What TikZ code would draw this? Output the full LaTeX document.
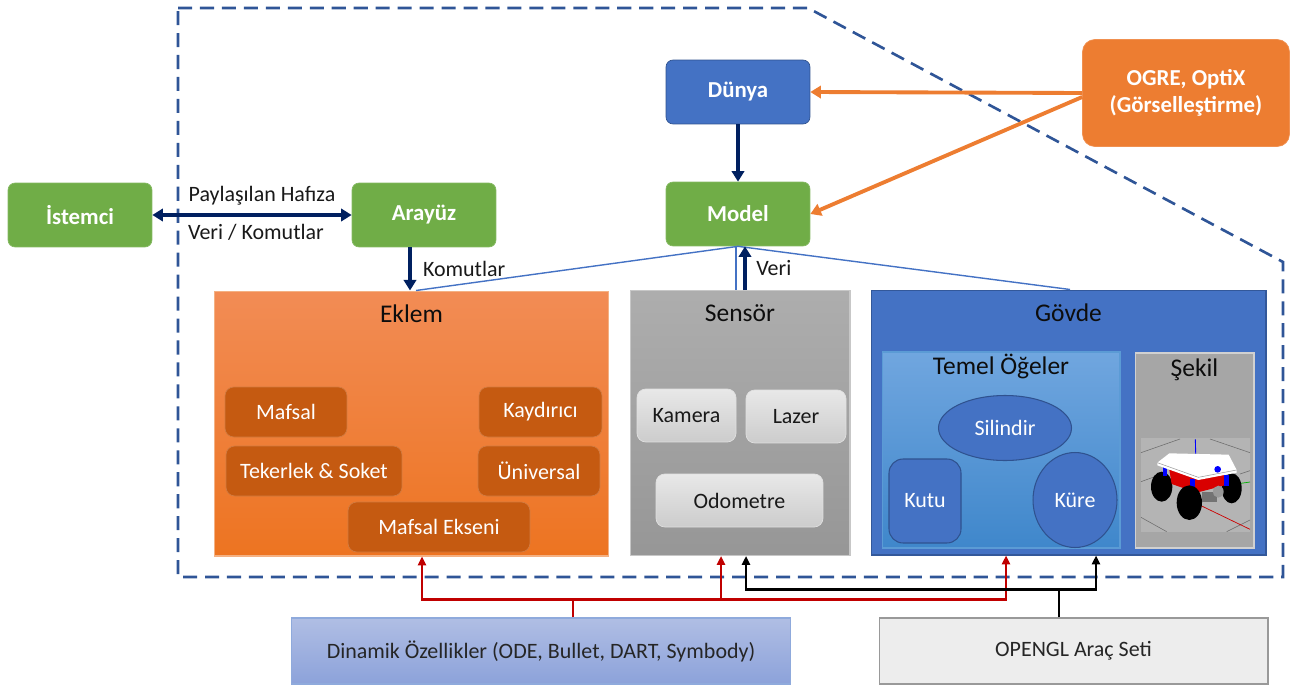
\documentclass[tikz,border=0pt]{standalone}
\usepackage{fontspec}
\setmainfont{Carlito}
\usepackage{xcolor}
\usetikzlibrary{shapes,arrows,positioning,calc,arrows.meta,shapes.geometric}

\definecolor{kgreen}{HTML}{70AD47}
\definecolor{kblue}{HTML}{4472C4}
\definecolor{kblueline}{HTML}{2F528F}
\definecolor{korange}{HTML}{ED7D31}
\definecolor{kdarkorange}{HTML}{C55A11}
\definecolor{knavy}{HTML}{002060}
\definecolor{kdash}{HTML}{2F5597}
\definecolor{kred}{HTML}{C00000}
\definecolor{kfloor}{HTML}{B4B4B4}
\definecolor{kgrid}{HTML}{6A6A6A}

\begin{document}
\begin{tikzpicture}[x=0.02cm, y=-0.02cm,
    labeltext/.style={font=\fontsize{12.5}{14}\selectfont, text=black!90},
    headbox/.style={rounded corners=4pt, text=white, font=\fontsize{13}{15.5}\selectfont\bfseries,
        minimum width=2.88cm, minimum height=1.28cm, inner sep=0pt, align=center},
    greenbox/.style={headbox, fill=kgreen, draw=kgreen!85!white},
    panel/.style={minimum width=#1, minimum height=5.3cm, inner sep=0pt, line width=0.6pt},
    paneltitle/.style={font=\fontsize{14.5}{16}\selectfont, text=black!95},
    jointbox/.style={rounded corners=5pt, fill=kdarkorange, draw=kdarkorange!80!white, text=white,
        font=\fontsize{12.5}{15}\selectfont, minimum width=#1, minimum height=1cm, inner sep=0pt},
    sensorbox/.style={rounded corners=5pt, top color=black!9, bottom color=black!20, draw=black!12,
        text=black!90, font=\fontsize{12.5}{15}\selectfont, minimum width=#1, minimum height=1.06cm, inner sep=0pt},
    shapebox/.style={fill=kblue, draw=kblueline, line width=0.6pt, text=white,
        font=\fontsize{12.5}{15}\selectfont, inner sep=0pt},
    basebox/.style={minimum width=#1, minimum height=1.32cm, inner sep=0pt, line width=0.6pt,
        font=\fontsize{12.5}{14}\selectfont, text=black!85},
    navyarrow/.style={knavy, line width=2.2pt, -{Triangle[length=6pt,width=7pt]}},
    orangearrow/.style={korange, line width=2.2pt, -{Triangle[length=6pt,width=7pt]}},
    thinline/.style={kblue, line width=0.8pt},
    redline/.style={kred, line width=1.3pt},
    blackline/.style={black, line width=1.3pt},
    smalltip/.style={-{Triangle[length=5pt,width=4.5pt]}},
]
    \useasboundingbox (0,0) rectangle (1294,686);

    % Simulation boundary
    \draw[kdash, line width=1.5pt, dash pattern=on 8pt off 4.5pt]
        (178,8) -- (808,8) -- (1283,262) -- (1283,577) -- (178,577) -- cycle;

    % Top row
    \node[greenbox] (istemci) at (80,215) {İstemci};
    \node[greenbox] (arayuz) at (424,215) {Arayüz};
    \node[headbox, fill=kblue, draw=kblueline] (dunya) at (738,92) {Dünya};
    \node[greenbox] (model) at (738,214) {Model};
    \node[headbox, fill=korange, draw=korange!85!white, rounded corners=7pt,
        minimum width=4.14cm, minimum height=2.14cm] (ogre) at (1186,93) {OGRE, OptiX\\(Görselleştirme)};

    \draw[knavy, line width=2.2pt, {Triangle[length=6pt,width=7pt]}-{Triangle[length=6pt,width=7pt]}]
        (istemci.east) -- (arayuz.west)
        node[labeltext, above=1pt, pos=0.55] {Paylaşılan Hafıza}
        node[labeltext, below=1pt, pos=0.52] {Veri / Komutlar};
    \draw[navyarrow] (dunya.south) -- (model.north);
    \draw[orangearrow] (ogre.west) -- (dunya.east);
    \draw[orangearrow] ($(ogre.west)+(0,4)$) -- (model.east);

    % Panels
    \node[panel=7.9cm, top color={rgb,255:red,242;green,140;blue,85}, bottom color={rgb,255:red,237;green,116;blue,33},
        draw={rgb,255:red,244;green,177;blue,131}] (eklem) at (411.5,423.5) {};
    \node[panel=4.4cm, top color=black!32, bottom color=black!41, draw=black!22] (sensor) at (740,423) {};
    \node[panel=7.9cm, fill=kblue, draw=kblueline!80!kblue] (govde) at (1068.5,422.5) {};

    \node[paneltitle] (eklemtitle) at ($(eklem.north)+(0,23)$) {Eklem};
    \node[paneltitle] (sensortitle) at ($(sensor.north)+(0,23)$) {Sensör};
    \node[paneltitle] (govdetitle) at ($(govde.north)+(0,23)$) {Gövde};

    % Model links
    \coordinate (veribot) at ($(sensor.north)+(5,0)$);
    \coordinate (komtop) at ($(arayuz.south)+(-14,0)$);
    \draw[thinline] (model.south) -- ($(eklem.north)+(4.5,0)$);
    \draw[thinline] ($(model.south)+(-2,0)$) -- ($(sensor.north)+(-4,0)$);
    \draw[thinline] (model.south) -- ($(govde.north)+(1.5,0)$);
    \draw[navyarrow] (veribot) -- (veribot |- model.south)
        node[labeltext, midway, right=2pt] {Veri};
    \draw[navyarrow] (komtop) -- (komtop |- eklem.north)
        node[labeltext, midway, right=3pt] {Komutlar};

    % Eklem
    \node[jointbox=2.44cm] (mafsal) at (286,412) {Mafsal};
    \node[jointbox=2.46cm] (kaydirici) at (540.5,412) {Kaydırıcı};
    \node[jointbox=3.52cm] (tekerlek) at (314,471) {Tekerlek \& Soket};
    \node[jointbox=2.44cm] (universal) at (539,471) {Üniversal};
    \node[jointbox=3.64cm] (ekseni) at (439,527) {Mafsal Ekseni};

    % Sensor
    \node[sensorbox=1.98cm] (kamera) at (686.5,415.5) {Kamera};
    \node[sensorbox=2cm] (lazer) at (796,416.5) {Lazer};
    \node[sensorbox=3.34cm] (odometre) at (739.5,500.5) {Odometre};

    % Govde
    \node[minimum width=4.76cm, minimum height=3.92cm, inner sep=0pt, line width=0.6pt,
        top color={rgb,255:red,112;green,166;blue,223}, bottom color={rgb,255:red,63;green,135;blue,203},
        draw={rgb,255:red,91;green,155;blue,213}] (temel) at (1001,450) {};
    \node[paneltitle] (temeltitle) at ($(temel.north)+(0,15)$) {Temel Öğeler};
    \node[shapebox, ellipse, minimum width=2.66cm, minimum height=1.3cm] (silindir) at (1005,428) {Silindir};
    \node[shapebox, rounded corners=8pt, minimum width=1.44cm, minimum height=1.68cm] (kutu) at (925,501) {Kutu};
    \node[shapebox, ellipse, minimum width=1.68cm, minimum height=1.9cm] (kure) at (1075,500) {Küre};

    \node[minimum width=2.38cm, minimum height=3.9cm, inner sep=0pt, line width=0.6pt,
        fill=black!35, draw=black!18] (sekil) at (1194.5,450.5) {};
    \node[paneltitle] (sekiltitle) at ($(sekil.north)+(0,17)$) {Şekil};
    \node[minimum width=2.18cm, minimum height=1.88cm, inner sep=0pt, fill=kfloor] (floor) at (1195.5,485) {};

    % Robot
    \begin{scope}[shift={(1130,420)}, x=0.00667cm, y=-0.00667cm]
        \draw[kgrid, line width=0.3pt] (33,98) -- (150,57) (33,185) -- (80,168) (240,57) -- (360,98)
            (330,162) -- (360,152) (33,292) -- (110,335) (290,335) -- (360,300);
        \draw[red!80!black, line width=0.4pt] (215,258) -- (360,328);
        \draw[green!70!black, line width=0.4pt] (318,192) -- (360,186);
        \draw[blue, line width=0.5pt] (196,58) -- (198,135);
        \fill[black] (95,200) ellipse [x radius=32, y radius=45];
        \fill[black] (305,205) ellipse [x radius=30, y radius=45];
        \fill[red!85!black] (118,150) -- (285,145) -- (288,195) -- (200,218) -- (125,192) -- cycle;
        \fill[blue] (98,140) rectangle (112,168);
        \fill[blue] (180,178) rectangle (194,205);
        \fill[blue] (283,165) rectangle (298,198);
        \fill[white] (82,128) -- (118,100) -- (296,104) -- (320,150) -- (320,158) -- (205,180) -- (82,136) -- cycle;
        \draw[black!40, line width=0.3pt] (82,128) -- (205,172) -- (320,150);
        \fill[blue] (263,148) circle [radius=10];
        \fill[black!55] (215,215) rectangle (262,245);
        \fill[black!40] (265,215) ellipse [x radius=16, y radius=18];
        \fill[black] (178,248) ellipse [x radius=38, y radius=52];
    \end{scope}

    % Bottom row
    \node[basebox=10cm, top color={rgb,255:red,176;green,190;blue,228}, bottom color={rgb,255:red,140;green,162;blue,218},
        draw={rgb,255:red,143;green,170;blue,220}] (dinamik) at (541,651) {Dinamik Özellikler (ODE, Bullet, DART, Symbody)};
    \node[basebox=7.78cm, fill=black!7, draw=black!40] (opengl) at (1073.5,651) {OPENGL Araç Seti};

    \coordinate (rj) at ($(dinamik.north)+(32,-18)$);
    \draw[redline] ($(dinamik.north)+(32,0)$) -- (rj);
    \draw[redline, smalltip] (rj) -| ($(eklem.south)+(10.5,0)$);
    \draw[redline, smalltip] (rj) -| ($(sensor.south)+(-19,0)$);
    \draw[redline, smalltip] (rj) -| ($(govde.south)+(-62.5,0)$);

    \coordinate (bj) at ($(opengl.north)+(-14.5,-28)$);
    \draw[blackline] ($(opengl.north)+(-14.5,0)$) -- (bj);
    \draw[blackline, smalltip] (bj) -| ($(sensor.south)+(6,0)$);
    \draw[blackline, smalltip] (bj) -| ($(govde.south)+(27.5,0)$);
\end{tikzpicture}
\end{document}
